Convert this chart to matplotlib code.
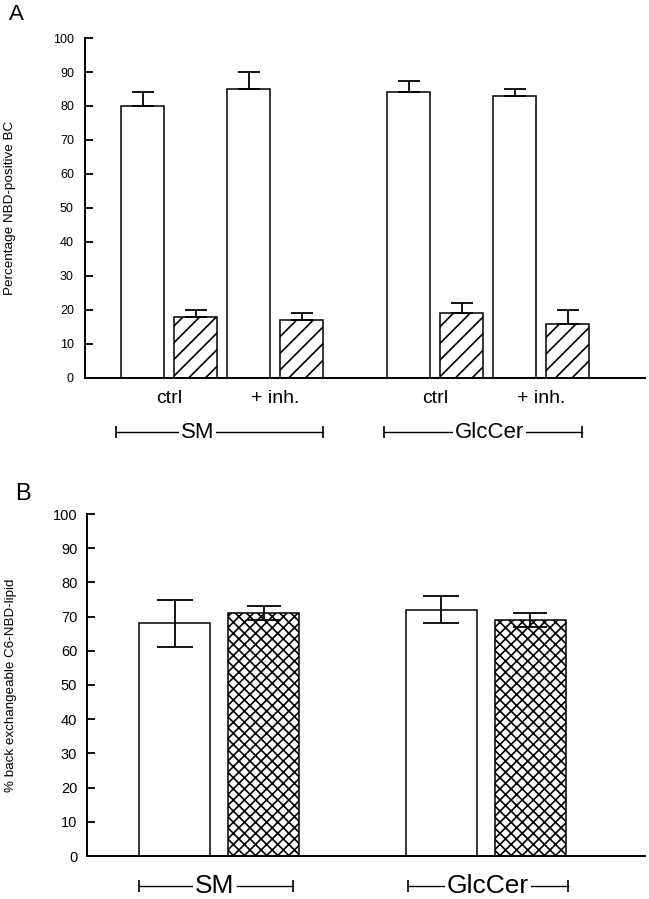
import matplotlib
matplotlib.use("Agg")
import matplotlib.pyplot as plt
import numpy as np

plt.rcParams['font.family'] = ['Liberation Sans', 'DejaVu Sans']
plt.rcParams['hatch.linewidth'] = 1.2

# ---------------- data ----------------
lipids = ["SM", "GlcCer"]
conditions = ["ctrl", "+ inh."]
# Panel A: open bars and hatched bars, order: SM ctrl, SM inh, GlcCer ctrl, GlcCer inh
a_open = [80, 85, 84, 83]
a_open_err = [4, 5, 3.5, 2]
a_hatch = [18, 17, 19, 16]
a_hatch_err = [2, 2, 3, 4]
a_ylabel = "Percentage NBD-positive BC"

# Panel B: open and cross-hatched bars per lipid
b_open = [68, 72]
b_open_err = [7, 4]
b_cross = [71, 69]
b_cross_err = [2, 2]
b_ylabel = "% back exchangeable C6-NBD-lipid"

yticks = list(range(0, 101, 10))

W, H = 649, 899
fig = plt.figure(figsize=(W / 100, H / 100), dpi=100)

def px_axes(left, top, right, bottom):
    return fig.add_axes([left / W, 1 - bottom / H, (right - left) / W, (bottom - top) / H])

def style_axes(ax, tick_fs, pad):
    ax.set_ylim(0, 100)
    ax.set_yticks(yticks)
    ax.spines['top'].set_visible(False)
    ax.spines['right'].set_visible(False)
    ax.spines['left'].set_linewidth(1.4)
    ax.spines['bottom'].set_linewidth(1.4)
    ax.tick_params(axis='y', direction='in', length=6, width=1.3, labelsize=tick_fs, pad=pad)
    ax.tick_params(axis='x', length=0, labelbottom=False)

def bracket(ax, x0, x1, xt, y, label, fs):
    tr = ax.get_xaxis_transform()
    ax.plot([x0, x1], [y, y], color='black', lw=1.0, transform=tr, clip_on=False)
    ax.plot([x0, x1], [y, y], linestyle='none', marker='|', markersize=9,
            markeredgewidth=1.2, color='black', transform=tr, clip_on=False)
    ax.text(xt, y, label, ha='center', va='center', fontsize=fs, transform=tr,
            bbox=dict(facecolor='white', edgecolor='none', pad=1.5), clip_on=False)

# ---------------- Panel A ----------------
axA = px_axes(85, 38, 645, 378)
axA.set_xlim(0, 560)
bwA = 43
group_startA = [57.5, 323.5]
cond_stepA = 106
pair_stepA = 53
open_x = [g + c * cond_stepA for g in group_startA for c in range(len(conditions))]
hatch_x = [x + pair_stepA for x in open_x]

axA.bar(open_x, a_open, width=bwA, color='white', edgecolor='black', linewidth=1.1, zorder=2)
axA.bar(hatch_x, a_hatch, width=bwA, color='white', edgecolor='black', linewidth=1.1,
        hatch='//', zorder=2)
axA.errorbar(open_x, a_open, yerr=[np.zeros(len(a_open)), a_open_err], fmt='none',
             ecolor='black', elinewidth=1.3, capsize=8, capthick=1.3, zorder=3)
axA.errorbar(hatch_x, a_hatch, yerr=[np.zeros(len(a_hatch)), a_hatch_err], fmt='none',
             ecolor='black', elinewidth=1.3, capsize=8, capthick=1.3, zorder=3)
style_axes(axA, 9, 8)
axA.set_ylabel(a_ylabel, fontsize=9.7)
axA.yaxis.set_label_coords(-(85 - 16) / 560, 0.5)

trA = axA.get_xaxis_transform()
for i, x in enumerate(open_x):
    axA.text(x + pair_stepA / 2, -0.059, conditions[i % 2], ha='center', va='center',
             fontsize=14, transform=trA)

bracket(axA, 31, 238, 112.5, -0.159, lipids[0], 16)
bracket(axA, 299, 497, 404.5, -0.159, lipids[1], 16)
fig.text(9 / W, 1 - 14 / H, "A", fontsize=16, ha='left', va='center')

# ---------------- Panel B ----------------
axB = px_axes(87, 514, 645, 856)
axB.set_xlim(0, 558)
bwB = 71
group_startB = [87.5, 354]
pair_stepB = 89
bo_x = list(group_startB)
bc_x = [x + pair_stepB for x in bo_x]
axB.bar(bo_x, b_open, width=bwB, color='white', edgecolor='black', linewidth=1.1, zorder=2)
axB.bar(bc_x, b_cross, width=bwB, color='white', edgecolor='black', linewidth=1.1,
        hatch='xxx', zorder=2)
axB.errorbar(bo_x, b_open, yerr=b_open_err, fmt='none', ecolor='black', elinewidth=1.3,
             capsize=13, capthick=1.3, zorder=3)
axB.errorbar(bc_x, b_cross, yerr=b_cross_err, fmt='none', ecolor='black', elinewidth=1.3,
             capsize=12, capthick=1.3, zorder=3)
style_axes(axB, 10.5, 7)
axB.set_ylabel(b_ylabel, fontsize=9.6)
axB.yaxis.set_label_coords(-(87 - 17) / 558, 0.5)

bracket(axB, 52, 206, 128, -0.088, lipids[0], 19)
bracket(axB, 321, 481, 401, -0.088, lipids[1], 19)
fig.text(15 / W, 1 - 494 / H, "B", fontsize=17, ha='left', va='center')

fig.savefig("out.png", dpi=100)
